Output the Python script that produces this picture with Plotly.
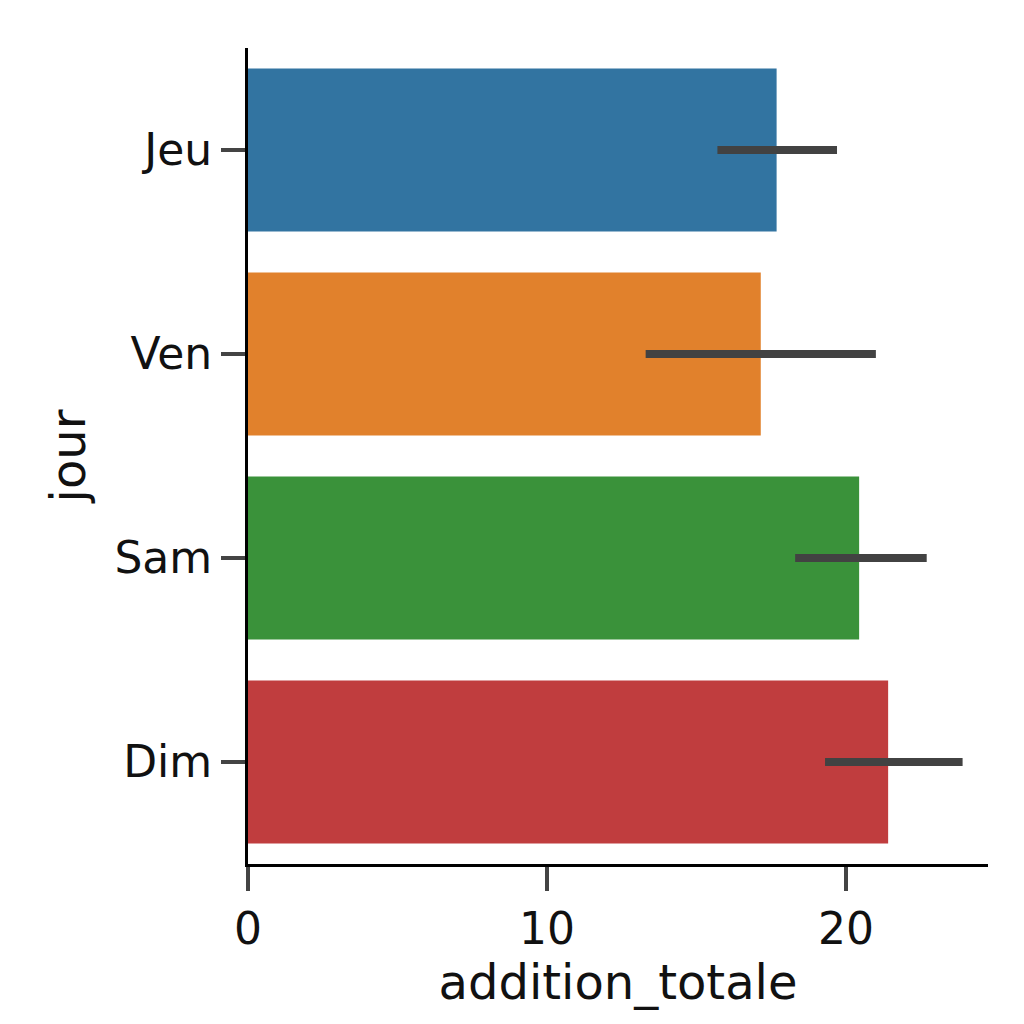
import plotly.graph_objects as go

jours = ["Jeu", "Ven", "Sam", "Dim"]
moyennes = [17.68, 17.15, 20.44, 21.41]
ci_bas = [15.7, 13.3, 18.3, 19.3]
ci_haut = [19.7, 21.0, 22.7, 23.9]
couleurs = ["#3274a1", "#e1812c", "#3a923a", "#c03d3e"]

plus = [h - m for h, m in zip(ci_haut, moyennes)]
moins = [m - l for m, l in zip(moyennes, ci_bas)]

fig = go.Figure(go.Bar(
    x=moyennes, y=jours, orientation="h", width=0.8,
    marker=dict(color=couleurs, line=dict(width=0)),
    error_x=dict(type="data", symmetric=False, array=plus, arrayminus=moins,
                 color="#424242", thickness=8, width=0),
))
fig.update_layout(
    width=1024, height=1024, plot_bgcolor="white", paper_bgcolor="white",
    margin=dict(l=240, r=44, t=40, b=168),
    font=dict(family="DejaVu Sans", color="#111", size=44),
    showlegend=False,
)
fig.update_xaxes(range=[0, 24.75], tickvals=[0, 10, 20], ticks="outside", ticklen=24,
                 tickwidth=4, showline=True, linewidth=3, linecolor="black",
                 showgrid=False, zeroline=False,
                 title=dict(text="addition_totale", font=dict(size=48), standoff=12))
fig.update_yaxes(range=[3.5, -0.5], autorange=False, ticks="outside", ticklen=24, tickwidth=4,
                 showline=True, linewidth=3, linecolor="black", showgrid=False,
                 title=dict(text="jour", font=dict(size=48), standoff=14))
fig.write_html("out.html")
